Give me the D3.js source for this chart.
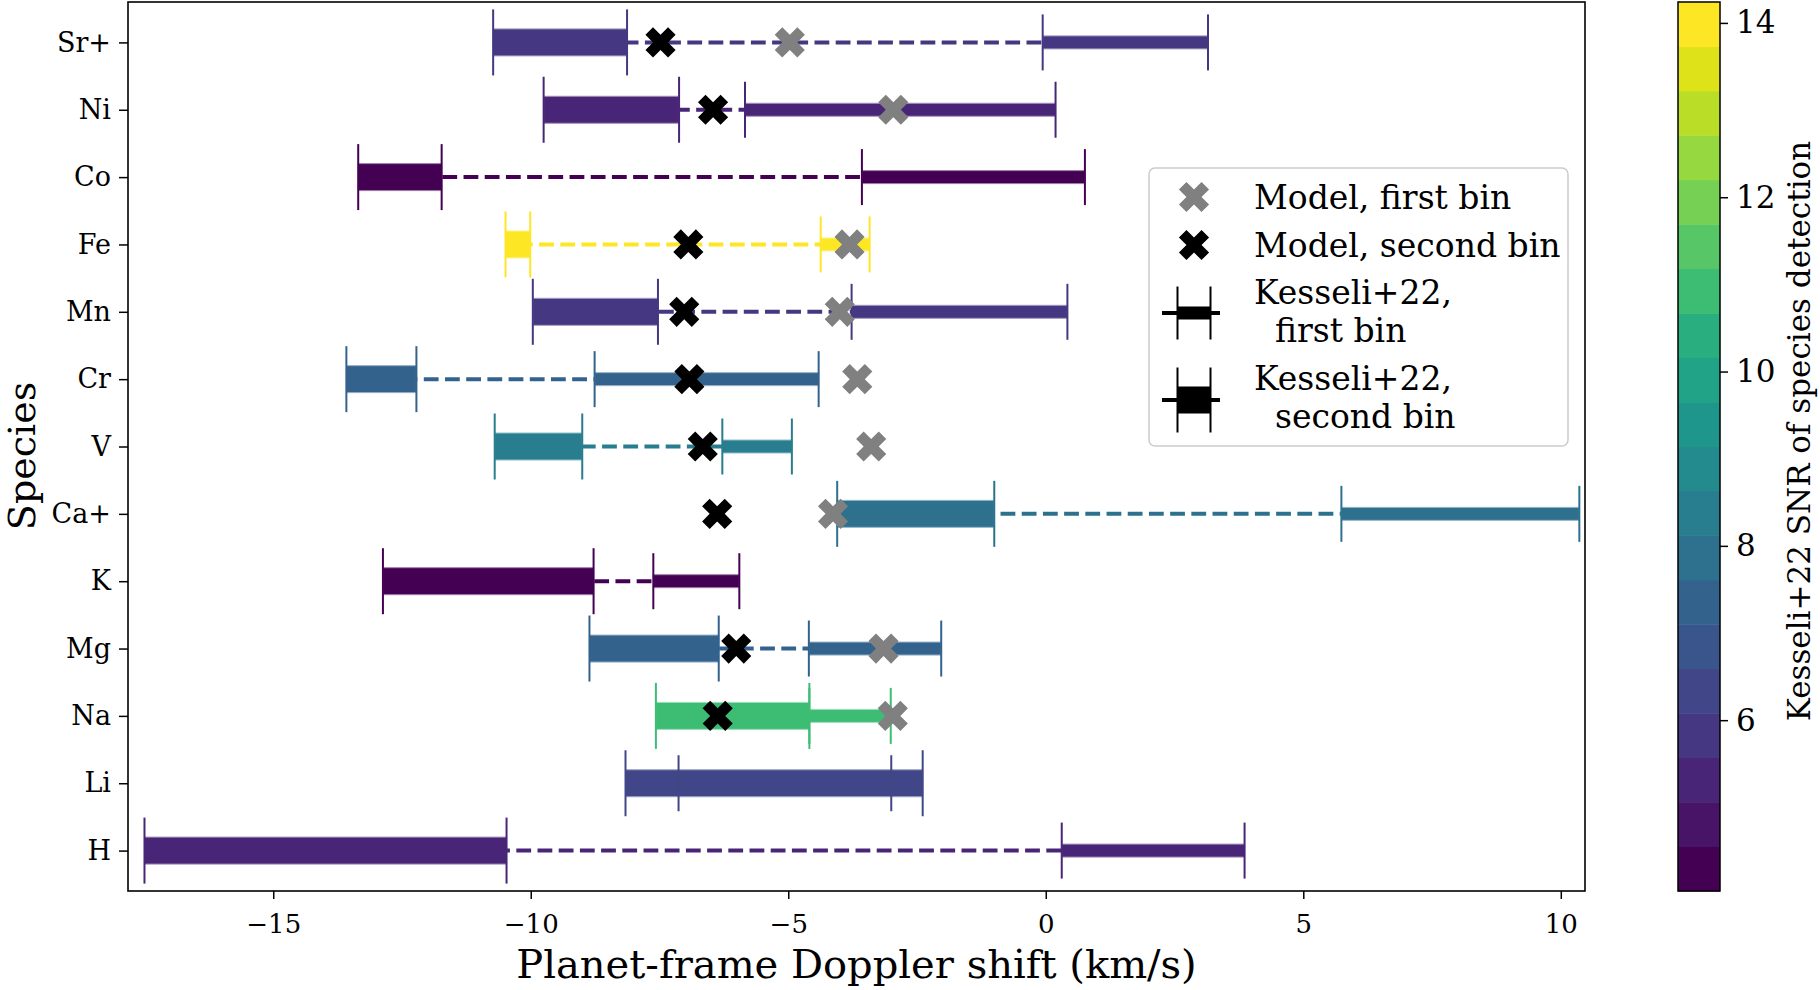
<!DOCTYPE html>
<html>
<head>
<meta charset="utf-8">
<script src="https://cdn.jsdelivr.net/npm/d3@7"></script>
<style>
  html, body { margin: 0; padding: 0; background: #fff; }
  svg text { font-family: "DejaVu Serif", serif; fill: #000; }
</style>
</head>
<body>
<svg id="chart" width="1820" height="990"></svg>
<script>
// ---- Data (top to bottom) ----
const species = ["Sr+", "Ni", "Co", "Fe", "Mn", "Cr", "V", "Ca+", "K", "Mg", "Na", "Li", "H"];
// Kesseli+22 first bin (thin bars): low / high edges, km/s
const firstLo  = [-0.06, -5.84, -3.57, -4.37, -3.77, -8.76, -6.28,  5.74, -7.62, -4.60, -4.59, -7.13,  0.31];
const firstHi  = [ 3.15,  0.19,  0.76, -3.42,  0.42, -4.41, -4.93, 10.36, -5.95, -2.03, -3.01, -3.00,  3.86];
// Kesseli+22 second bin (thick bars)
const secondLo = [-10.73, -9.75, -13.35, -10.49, -9.96, -13.58, -10.70, -4.05, -12.87, -8.86, -7.57, -8.16, -17.50];
const secondHi = [ -8.13, -7.12, -11.73, -10.01, -7.53, -12.22,  -9.00, -1.00,  -8.78, -6.35, -4.59, -2.39, -10.47];
// Model predictions
const modelFirst  = [-4.97, -2.96, null, -3.81, -4.00, -3.66, -3.39, -4.13, null, -3.15, -2.97, null, null];
const modelSecond = [-7.48, -6.46, null, -6.94, -7.02, -6.92, -6.66, -6.38, null, -6.01, -6.37, null, null];
// Kesseli+22 SNR of species detection
const snr = [5.8, 5.3, 4.04, 14.24, 5.9, 7.3, 8.4, 7.9, 4.3, 7.3, 10.8, 6.3, 5.4];
// Axis ticks
const xTicks = [-15, -10, -5, 0, 5, 10];
const cbTicks = [6, 8, 10, 12, 14];
const nColors = 20;

// ---- Layout ----
const svg = d3.select("#chart");
const plot = {left: 128, right: 1585, top: 2, bottom: 891};
const cb = {left: 1678, right: 1720, top: 2, bottom: 891};

const x = d3.scaleLinear().domain([-17.82, 10.47]).range([plot.left, plot.right]);
const y = d3.scalePoint().domain(species).range([plot.top, plot.bottom]).padding(0.6);

const snrExtent = d3.extent(snr);
const cnorm = d3.scaleLinear().domain(snrExtent).range([0, 1]).clamp(true);
function colorOf(v) {
  let i = Math.floor(cnorm(v) * nColors);
  if (i >= nColors) i = nColors - 1;
  return d3.interpolateViridis(i / (nColors - 1));
}

const rows = species.map((s, i) => ({
  s, fLo: firstLo[i], fHi: firstHi[i], sLo: secondLo[i], sHi: secondHi[i],
  mF: modelFirst[i], mS: modelSecond[i], c: colorOf(snr[i])
}));

const g = svg.append("g");

// dashed connectors between bin centres
g.selectAll("line.conn").data(rows).join("line")
  .attr("class", "conn")
  .attr("x1", d => x((d.sLo + d.sHi) / 2))
  .attr("x2", d => x((d.fLo + d.fHi) / 2))
  .attr("y1", d => y(d.s)).attr("y2", d => y(d.s))
  .attr("stroke", d => d.c).attr("stroke-width", 4)
  .attr("stroke-dasharray", "14.8,6.4");

function binRects(cls, lo, hi, h) {
  g.selectAll("rect." + cls).data(rows).join("rect").attr("class", cls)
    .attr("x", d => x(d[lo])).attr("width", d => x(d[hi]) - x(d[lo]))
    .attr("y", d => y(d.s) - h / 2).attr("height", h)
    .attr("fill", d => d.c)
    .attr("stroke", d => d3.interpolateRgb(d.c, "#fff")(0.5)).attr("stroke-width", 1);
}
function binCaps(cls, lo, hi, capH) {
  [lo, hi].forEach(k => {
    g.selectAll("line." + cls + k).data(rows).join("line").attr("class", cls + k)
      .attr("x1", d => x(d[k])).attr("x2", d => x(d[k]))
      .attr("y1", d => y(d.s) - capH / 2).attr("y2", d => y(d.s) + capH / 2)
      .attr("stroke", d => d.c).attr("stroke-width", 2);
  });
}
binRects("firstR", "fLo", "fHi", 13);
binRects("secondR", "sLo", "sHi", 27);
binCaps("secondC", "sLo", "sHi", 66);
binCaps("firstC", "fLo", "fHi", 56);

// X-shaped filled marker (matplotlib 'X')
function xMarkerPath(S) {
  const pts = [[-1,-3],[1,-3],[1,-1],[3,-1],[3,1],[1,1],[1,3],[-1,3],[-1,1],[-3,1],[-3,-1],[-1,-1]];
  const a = Math.PI / 4, ca = Math.cos(a), sa = Math.sin(a);
  return "M" + pts.map(([px, py]) => {
    const u = px / 6 * S, v = py / 6 * S;
    return [(u * ca - v * sa).toFixed(2), (u * sa + v * ca).toFixed(2)].join(",");
  }).join("L") + "Z";
}
const xPath = xMarkerPath(32);

g.selectAll("path.mf").data(rows.filter(d => d.mF !== null)).join("path")
  .attr("class", "mf").attr("d", xPath)
  .attr("transform", d => `translate(${x(d.mF)},${y(d.s)})`)
  .attr("fill", "#808080");
g.selectAll("path.ms").data(rows.filter(d => d.mS !== null)).join("path")
  .attr("class", "ms").attr("d", xPath)
  .attr("transform", d => `translate(${x(d.mS)},${y(d.s)})`)
  .attr("fill", "#000");

// ---- Axes ----
const xAxis = svg.append("g").attr("transform", `translate(0,${plot.bottom})`)
  .call(d3.axisBottom(x).tickValues(xTicks).tickSize(8).tickPadding(16).tickSizeOuter(0));
xAxis.select(".domain").remove();
xAxis.selectAll("line").attr("stroke", "#000").attr("stroke-width", 1.5);
xAxis.selectAll("text").attr("font-size", 26).style("font-family", "DejaVu Serif");

const yAxis = svg.append("g").attr("transform", `translate(${plot.left},0)`)
  .call(d3.axisLeft(y).tickSize(9).tickPadding(8).tickSizeOuter(0));
yAxis.select(".domain").remove();
yAxis.selectAll("line").attr("stroke", "#000").attr("stroke-width", 1.5);
yAxis.selectAll("text").attr("font-size", 27).style("font-family", "DejaVu Serif");

// frame
svg.append("rect").attr("x", plot.left).attr("y", plot.top)
  .attr("width", plot.right - plot.left).attr("height", plot.bottom - plot.top)
  .attr("fill", "none").attr("stroke", "#000").attr("stroke-width", 1.6);

svg.append("text").attr("x", (plot.left + plot.right) / 2).attr("y", 964)
  .attr("text-anchor", "middle").attr("dominant-baseline", "central")
  .attr("font-size", 40).text("Planet-frame Doppler shift (km/s)");
svg.append("text").attr("transform", `translate(22,456) rotate(-90)`)
  .attr("text-anchor", "middle").attr("dominant-baseline", "central")
  .attr("font-size", 38).text("Species");

// ---- Legend ----
const lg = svg.append("g");
lg.append("rect").attr("x", 1149).attr("y", 168).attr("width", 419).attr("height", 278)
  .attr("rx", 6).attr("fill", "#fff").attr("fill-opacity", 0.8)
  .attr("stroke", "#cccccc").attr("stroke-width", 1.5);
const lx = 1194, tx = 1254, fs = 33;
lg.append("path").attr("d", xPath).attr("transform", `translate(${lx},197)`).attr("fill", "#808080");
lg.append("text").attr("x", tx).attr("y", 197).attr("dominant-baseline", "central").attr("font-size", fs).text("Model, first bin");
lg.append("path").attr("d", xPath).attr("transform", `translate(${lx},245)`).attr("fill", "#000");
lg.append("text").attr("x", tx).attr("y", 245).attr("dominant-baseline", "central").attr("font-size", fs).text("Model, second bin");
function legendErr(cy, h, capH) {
  lg.append("line").attr("x1", 1162).attr("x2", 1220).attr("y1", cy).attr("y2", cy)
    .attr("stroke", "#000").attr("stroke-width", 4);
  lg.append("rect").attr("x", 1177.5).attr("width", 33).attr("y", cy - h / 2).attr("height", h).attr("fill", "#000");
  [1177.5, 1210.5].forEach(cx => lg.append("line").attr("x1", cx).attr("x2", cx)
    .attr("y1", cy - capH / 2).attr("y2", cy + capH / 2).attr("stroke", "#000").attr("stroke-width", 2));
}
legendErr(313, 13, 53);
legendErr(400, 27, 65);
[["Kesseli+22,", 292], ["  first bin", 330], ["Kesseli+22,", 378], ["  second bin", 416]].forEach(([t, yy]) =>
  lg.append("text").attr("x", tx).attr("y", yy).attr("dominant-baseline", "central")
    .attr("font-size", fs).style("white-space", "pre").text(t));

// ---- Colorbar ----
const cy = d3.scaleLinear().domain(snrExtent).range([cb.bottom, cb.top]);
const step = (snrExtent[1] - snrExtent[0]) / nColors;
const bins = d3.range(nColors).map(i => ({lo: snrExtent[0] + i * step, hi: snrExtent[0] + (i + 1) * step, i}));
svg.append("g").selectAll("rect").data(bins).join("rect")
  .attr("x", cb.left).attr("width", cb.right - cb.left)
  .attr("y", d => cy(d.hi)).attr("height", d => cy(d.lo) - cy(d.hi) + 0.5)
  .attr("fill", d => d3.interpolateViridis(d.i / (nColors - 1)));
svg.append("rect").attr("x", cb.left).attr("y", cb.top).attr("width", cb.right - cb.left)
  .attr("height", cb.bottom - cb.top).attr("fill", "none").attr("stroke", "#000").attr("stroke-width", 1.5);
const cbAxis = svg.append("g").attr("transform", `translate(${cb.right},0)`)
  .call(d3.axisRight(cy).tickValues(cbTicks).tickSize(8).tickPadding(8).tickFormat(d3.format("d")));
cbAxis.select(".domain").remove();
cbAxis.selectAll("line").attr("stroke", "#000").attr("stroke-width", 1.5);
cbAxis.selectAll("text").attr("font-size", 31).style("font-family", "DejaVu Serif");
svg.append("text").attr("transform", `translate(1799,431) rotate(-90)`)
  .attr("text-anchor", "middle").attr("dominant-baseline", "central")
  .attr("font-size", 31).text("Kesseli+22 SNR of species detection");
</script>
</body>
</html>
